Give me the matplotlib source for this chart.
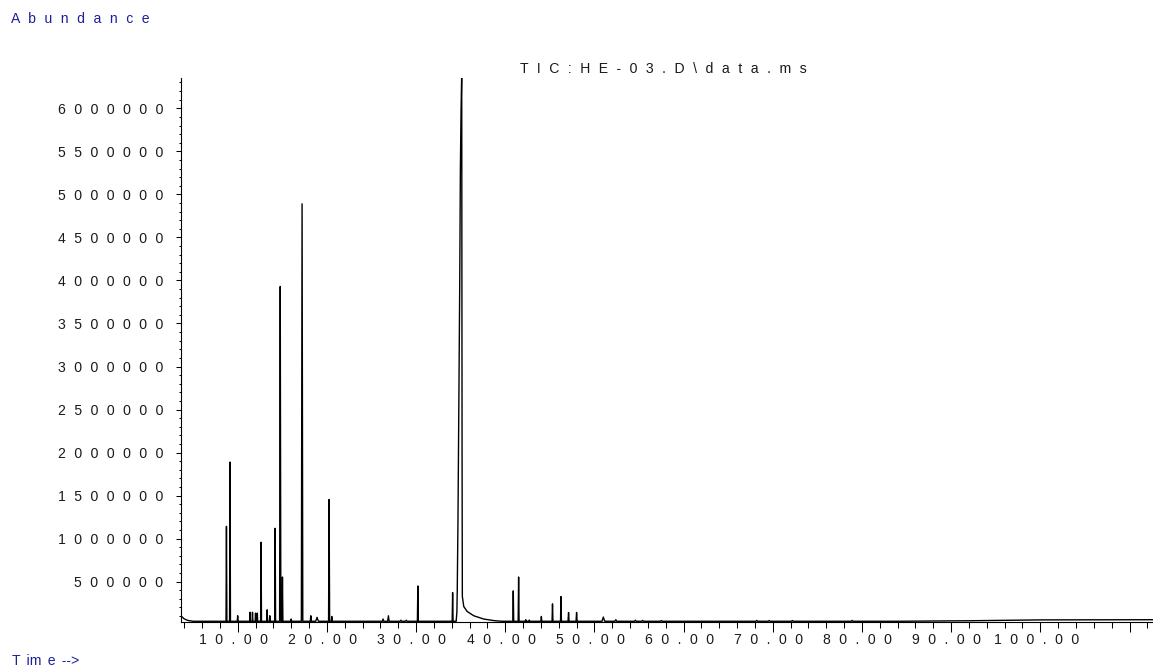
import numpy as np
import matplotlib
matplotlib.use("Agg")
import matplotlib.pyplot as plt
from matplotlib.ticker import FixedLocator, FixedFormatter, MultipleLocator

plt.rcParams['font.family'] = ['Liberation Sans', 'DejaVu Sans']

# ---- data (time in min, abundance in counts) ----
BASE = 40000

# baseline (start-up drift and late column bleed)
base_t = [3.61, 3.75, 4.0, 4.4, 5.0, 84.0, 92.0, 100.0, 112.6]
base_y = [105000, 92000, 68000, 50000, BASE, BASE, 46000, 56000, 58000]

# resolved peaks: retention time, apex height, half width
peak_rt = [8.74, 9.14, 10.0, 11.38, 11.66, 12.0, 12.2, 12.62, 13.3, 13.6,
           14.2, 14.77, 15.02, 16.0, 17.22, 18.2, 18.9, 20.25, 20.55,
           26.3, 26.9, 28.3, 28.9, 30.2, 34.1, 40.9, 41.5, 42.3, 42.7,
           44.05, 45.3, 46.25, 47.1, 48.0, 51.0, 52.4, 54.6, 55.4, 57.5,
           68.2, 69.6, 72.2, 78.9]
peak_h = [1143000, 1890000, 104000, 145000, 145000, 135000, 135000, 958000,
          173000, 104000, 1120000, 3930000, 554000, 66000, 4890000, 104000,
          85000, 1455000, 96000, 66000, 104000, 52000, 52000, 450000, 373000,
          393000, 554000, 58000, 54000, 96000, 242000, 327000, 142000, 142000,
          89000, 58000, 52000, 50000, 48000, 50000, 49000, 49000, 50000]
peak_hw = [0.05, 0.05, 0.05, 0.04, 0.04, 0.04, 0.04, 0.05, 0.05, 0.04,
           0.05, 0.07, 0.05, 0.05, 0.08, 0.06, 0.15, 0.06, 0.05,
           0.08, 0.08, 0.1, 0.1, 0.05, 0.05, 0.05, 0.05, 0.05, 0.05,
           0.05, 0.05, 0.05, 0.06, 0.06, 0.15, 0.1, 0.1, 0.1, 0.1,
           0.1, 0.1, 0.1, 0.1]

# overloaded main peak (fronting, then tailing)
main_t = [34.5, 34.58, 34.62, 34.7, 34.8, 34.9, 34.97, 35.05, 35.12,
          35.16, 35.19, 35.35, 35.73, 36.47, 37.59, 38.7, 39.6]
main_y = [BASE, 150000, 400000, 1200000, 2600000, 4000000, 5300000, 6000000,
          6400000, 2000000, 330000, 211000, 154000, 104000, 66000, 48000, BASE]

x_major = [10, 20, 30, 40, 50, 60, 70, 80, 90, 100, 110]
x_labels = ["10.00", "20.00", "30.00", "40.00", "50.00", "60.00", "70.00",
            "80.00", "90.00", "100.00", ""]
y_major = [500000, 1000000, 1500000, 2000000, 2500000, 3000000,
           3500000, 4000000, 4500000, 5000000, 5500000, 6000000]

GAP = " \u2004"


def spaced(s, gap=GAP):
    return gap.join(s)


# build the trace
t_pts = list(base_t) + list(main_t)
y_pts = list(base_y) + list(main_y)
for rt, h, hw in zip(peak_rt, peak_h, peak_hw):
    t_pts += [rt - hw, rt, rt + hw]
    y_pts += [BASE, h, BASE]
order = np.argsort(t_pts, kind="stable")
t_arr = np.array(t_pts)[order]
y_arr = np.array(y_pts)[order]

W, H = 1153, 672
fig = plt.figure(figsize=(W / 100, H / 100), dpi=100)
ax = fig.add_axes([180.7 / W, 1 - 621.7 / H, 972 / W, 543.7 / H])

ax.plot(t_arr, y_arr, color="black", lw=1.0)
ax.set_xlim(3.61, 112.6)
ax.set_ylim(35000, 6352000)

for side in ("top", "right"):
    ax.spines[side].set_visible(False)
for side in ("left", "bottom"):
    ax.spines[side].set_linewidth(0.8)

txt = "#1a1a1a"
blue = "#1f1f9a"
fs = 10.1

ax.xaxis.set_major_locator(FixedLocator(x_major))
ax.xaxis.set_major_formatter(FixedFormatter([spaced(s) + GAP if s else "" for s in x_labels]))
ax.xaxis.set_minor_locator(MultipleLocator(2))
ax.yaxis.set_major_locator(FixedLocator(y_major))
ax.yaxis.set_major_formatter(FixedFormatter([spaced(str(v)) for v in y_major]))
ax.yaxis.set_minor_locator(MultipleLocator(100000))

ax.tick_params(axis="x", which="major", length=7.2, width=0.75, pad=1,
               labelsize=fs, labelcolor=txt)
ax.tick_params(axis="x", which="minor", length=4.1, width=0.75)
ax.tick_params(axis="y", which="major", length=3.6, width=0.75, pad=9.1,
               labelsize=fs, labelcolor=txt)
ax.tick_params(axis="y", which="minor", length=1.8, width=0.75)

fig.text(11 / W, 1 - 23.3 / H, spaced("Abundance"), color=blue, fontsize=fs,
         va="baseline")
fig.text(663 / W, 1 - 72.7 / H, spaced("TIC:HE-03.D\\data.ms"), color=txt,
         fontsize=fs, ha="center", va="baseline")
fig.text(11.7 / W, 1 - 665 / H, spaced(["T", "im", "e", "-->"], " \u2006"),
         color=blue, fontsize=fs, va="baseline")

fig.savefig("out.png", dpi=100)
